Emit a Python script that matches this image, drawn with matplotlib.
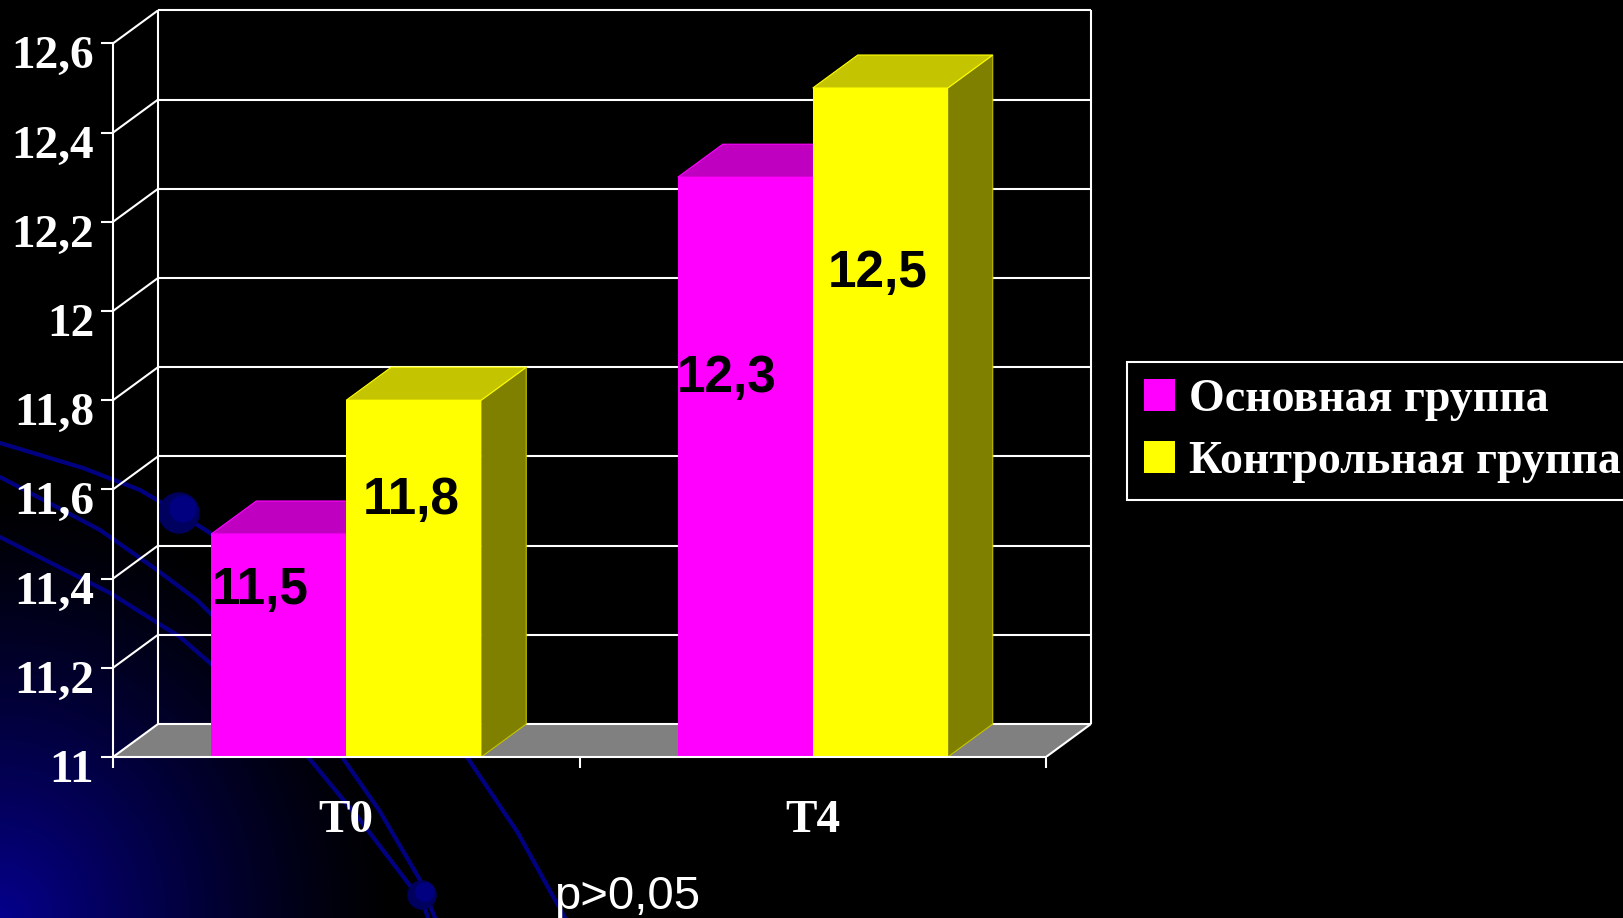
import numpy as np
import matplotlib
matplotlib.use("Agg")
import matplotlib.pyplot as plt
from matplotlib.patches import Polygon, Circle, Patch
from matplotlib.transforms import ScaledTranslation

# данные
categories = ['T0', 'T4']
series_names = ['Основная группа', 'Контрольная группа']
main_group = [11.5, 12.3]
control_group = [11.8, 12.5]
value_labels = [['11,5', '12,3'], ['11,8', '12,5']]
y_ticks = [11, 11.2, 11.4, 11.6, 11.8, 12, 12.2, 12.4, 12.6]
y_tick_labels = ['11', '11,2', '11,4', '11,6', '11,8', '12', '12,2', '12,4', '12,6']
note = 'p>0,05'

# вертикальное положение подписей значений внутри столбиков
label_y = [[11.374, 11.848], [11.576, 12.083]]

W, H = 1623, 918
DPI = 100

front_col = ['#FF00FF', '#FFFF00']
top_col = ['#C000C0', '#C4C400']
side_col = ['#800080', '#808000']

serif = ['Liberation Serif', 'DejaVu Serif']
sans = ['Liberation Sans', 'DejaVu Sans']

fig = plt.figure(figsize=(W / DPI, H / DPI), dpi=DPI, facecolor='black')

# ---- фон слайда: синий градиент и дуги ----
bg = fig.add_axes([0, 0, 1, 1], zorder=0)
bg.set_xlim(0, W)
bg.set_ylim(H, 0)
bg.axis('off')

xx, yy = np.meshgrid(np.arange(W), np.arange(H))
r = np.sqrt((xx / 400.0) ** 2 + ((H - yy) / 430.0) ** 2)
inten = np.clip(1 - r, 0, 1) ** 1.3
img = np.zeros((H, W, 3))
img[..., 2] = 0.55 * inten
img[..., 0] = 0.02 * inten
bg.imshow(img, extent=(0, W, H, 0), aspect='auto', interpolation='bilinear')

arcs = [
    [(0, 443), (83, 468), (140, 490), (179, 513), (210, 533), (330, 620),
     (467, 757), (518, 833), (565, 918)],
    [(0, 477), (100, 530), (157, 570), (197, 600), (210, 613), (280, 690),
     (342, 757), (379, 810), (420, 880), (435, 918)],
    [(0, 537), (110, 593), (180, 637), (210, 663), (260, 710), (308, 757),
     (360, 820), (411, 887), (422, 900), (428, 918)],
]
for arc in arcs:
    px, py = zip(*arc)
    bg.plot(px, py, color='#000080', lw=3, solid_capstyle='round')

for (cx, cy, rad) in [(179, 513, 20), (422, 895, 14)]:
    bg.add_patch(Circle((cx, cy), rad, color='#00005e', zorder=3))
    bg.add_patch(Circle((cx + rad * 0.2, cy - rad * 0.2), rad * 0.65,
                        color='#000080', zorder=3))

# ---- диаграмма с псевдо-3D ----
x_left, x_right = 113, 1100
y_bot, y_top = 757, 5
ax = fig.add_axes([x_left / W, (H - y_bot) / H, (x_right - x_left) / W,
                   (y_bot - y_top) / H], zorder=1)
ax.patch.set_alpha(0)

px_x = 2 / 933.0          # единиц по x на пиксель
px_y = 0.2 / 89.2         # единиц по y на пиксель
ax.set_xlim(-0.5, -0.5 + (x_right - x_left) * px_x)
ax.set_ylim(11, 11 + (y_bot - y_top) * px_y)

dx = 45 * px_x
dy = 33 * px_y
grid_kw = dict(color='white', lw=1.5, zorder=1, solid_capstyle='butt')

# пол
ax.add_patch(Polygon([(-0.5, 11), (1.5, 11), (1.5 + dx, 11 + dy), (-0.5 + dx, 11 + dy)],
                     closed=True, fc='#808080', ec='none', zorder=2))
ax.plot([1.5, 1.5 + dx], [11, 11 + dy], **dict(grid_kw, zorder=2.5))

# задняя и боковая стенки
for v in y_ticks:
    ax.plot([-0.5 + dx, 1.5 + dx], [v + dy, v + dy], **dict(grid_kw, zorder=2.5 if v == 11 else 1))
    ax.plot([-0.5, -0.5 + dx], [v, v + dy], **dict(grid_kw, zorder=2.5 if v == 11 else 1))
ax.plot([-0.5 + dx, -0.5 + dx], [11 + dy, 12.6 + dy], **grid_kw)
ax.plot([1.5 + dx, 1.5 + dx], [11 + dy, 12.6 + dy], **grid_kw)

# столбики
bw = 135 * px_x
for i in range(len(categories)):
    for s, vals in enumerate([main_group, control_group]):
        v = vals[i]
        x0 = i - bw + s * bw
        x1 = x0 + bw
        z = 3 + s * 2
        ax.add_patch(Polygon([(x1, 11), (x1 + dx, 11 + dy), (x1 + dx, v + dy), (x1, v)],
                             fc=side_col[s], ec=top_col[s], lw=0.8, zorder=z))
        ax.add_patch(Polygon([(x0, v), (x1, v), (x1 + dx, v + dy), (x0 + dx, v + dy)],
                             fc=top_col[s], ec=front_col[s], lw=0.8, zorder=z))
        ax.add_patch(Polygon([(x0, 11), (x1, 11), (x1, v), (x0, v)],
                             fc=front_col[s], ec='none', zorder=z + 0.5))
        shift = -0.04 if s == 0 else -0.005
        ax.text(x0 + bw / 2 + shift, label_y[s][i], value_labels[s][i],
                ha='center', va='center', fontsize=37, fontweight='bold',
                family=sans, color='black', zorder=10)

# оси
for side in ['top', 'right']:
    ax.spines[side].set_visible(False)
ax.spines['left'].set_bounds(11, 12.6)
ax.spines['bottom'].set_bounds(-0.5, 1.5)
for side in ['left', 'bottom']:
    ax.spines[side].set_color('white')
    ax.spines[side].set_linewidth(1.5)
    ax.spines[side].set_zorder(9)

ax.set_yticks(y_ticks, y_tick_labels)
ax.tick_params(axis='y', direction='out', length=8.6, width=1.5, color='white',
               labelcolor='white', pad=5)
for lab in ax.get_yticklabels():
    lab.set_fontfamily(serif)
    lab.set_fontweight('bold')
    lab.set_fontsize(34)
    lab.set_transform(lab.get_transform() + ScaledTranslation(0, -9 / DPI, fig.dpi_scale_trans))

ax.set_xticks([0, 1], categories)
ax.set_xticks([-0.5, 0.5, 1.5], minor=True)
ax.tick_params(axis='x', which='major', length=0, pad=31, labelcolor='white')
ax.tick_params(axis='x', which='minor', direction='out', length=8, width=1.5, color='white')
for lab in ax.get_xticklabels():
    lab.set_fontfamily(serif)
    lab.set_fontweight('bold')
    lab.set_fontsize(34)

# легенда
handles = [Patch(fc=front_col[0], ec='none'), Patch(fc=front_col[1], ec='none')]
leg = fig.legend(handles, series_names, loc='upper left',
                 bbox_to_anchor=(1127 / W, 1 - 362 / H), bbox_transform=fig.transFigure,
                 frameon=True, fancybox=False, facecolor='black', edgecolor='white',
                 framealpha=1, borderaxespad=0, borderpad=0.36, labelspacing=0.45,
                 handlelength=0.68, handleheight=0.7, handletextpad=0.32,
                 prop=dict(family=serif, weight='bold', size=33), labelcolor='white')
leg.get_frame().set_linewidth(1.5)

fig.text(554 / W, 1 - 897 / H, note, ha='left', va='center', fontsize=34,
         family=sans, color='white')

fig.savefig('out.png', dpi=DPI, facecolor='black')
